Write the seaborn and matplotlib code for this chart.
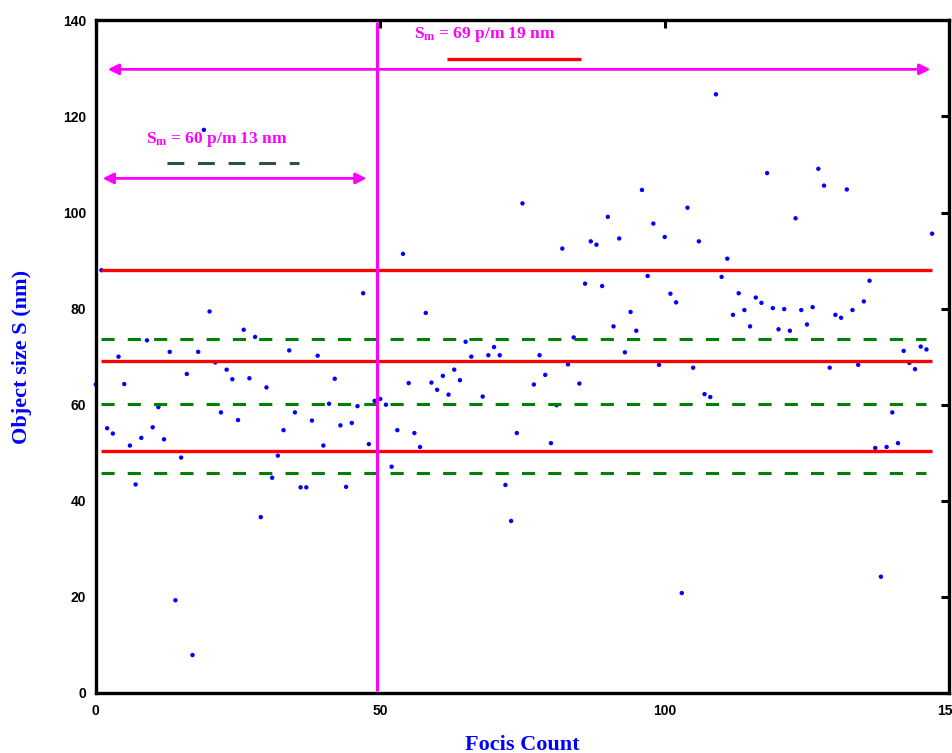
import matplotlib
matplotlib.use('Agg')
import matplotlib.pyplot as plt
import seaborn as sns
import pandas as pd
from matplotlib import font_manager

focis = [0, 1, 2, 3, 4, 5, 6, 7, 8, 9, 10, 11, 12, 13, 14, 15, 16, 17, 18, 19,
         20, 21, 22, 23, 24, 25, 26, 27, 28, 29, 30, 31, 32, 33, 34, 35, 36, 37, 38, 39,
         40, 41, 42, 43, 44, 45, 46, 47, 48, 49, 50, 51, 52, 53, 54, 55, 56, 57, 58, 59,
         60, 61, 62, 63, 64, 65, 66, 68, 69, 70, 71, 72, 73, 74, 75, 77, 78, 79,
         80, 81, 82, 83, 84, 85, 86, 87, 88, 89, 90, 91, 92, 93, 94, 95, 96, 97, 98, 99,
         100, 101, 102, 103, 104, 105, 106, 107, 108, 109, 110, 111, 112, 113, 114, 115,
         116, 117, 118, 119, 120, 121, 122, 123, 124, 125, 126, 127, 128, 129, 130, 131,
         132, 133, 134, 135, 136, 137, 138, 139, 140, 141, 142, 143, 144, 145, 146, 147]
sizes = [64.2, 88.0, 55.1, 54.0, 70.0, 64.3, 51.5, 43.4, 53.1, 73.4, 55.3, 59.5, 52.8, 71.0,
         19.3, 49.0, 66.4, 7.9, 71.0, 117.2, 79.4, 68.8, 58.4, 67.3, 65.3, 56.8, 75.6, 65.5,
         74.1, 36.6, 63.6, 44.8, 49.4, 54.7, 71.3, 58.4, 42.8, 42.8, 56.7, 70.2, 51.5, 60.2,
         65.4, 55.7, 42.9, 56.2, 59.7, 83.2, 51.8, 60.8, 61.2, 60.0, 47.1, 54.7, 91.4, 64.5,
         54.1, 51.2, 79.1, 64.6, 63.1, 66.0, 62.1, 67.3, 65.1, 73.1, 70.0, 61.7, 70.3, 72.0,
         70.3, 43.3, 35.8, 54.1, 101.9, 64.2, 70.3, 66.2, 52.0, 59.9, 92.5, 68.4, 74.0, 64.4,
         85.2, 94.0, 93.3, 84.7, 99.1, 76.3, 94.6, 70.9, 79.3, 75.4, 104.7, 86.8, 97.7, 68.3,
         94.9, 83.1, 81.3, 20.8, 101.0, 67.7, 94.0, 62.2, 61.6, 124.6, 86.6, 90.4, 78.7, 83.2,
         79.7, 76.3, 82.3, 81.2, 108.2, 80.1, 75.7, 79.9, 75.4, 98.8, 79.7, 76.7, 80.3, 109.1,
         105.6, 67.7, 78.7, 78.1, 104.8, 79.7, 68.3, 81.5, 85.8, 51.0, 24.2, 51.2, 58.4, 52.0,
         71.2, 68.7, 67.4, 72.1, 71.5, 95.6]

# reference levels
red_levels = [50.4, 69.2, 88.1]        # 69 +/- 19 nm
green_levels = [45.7, 60.2, 73.7]      # 60 +/- 13 nm
split_at = 49.5
label_60 = r'S$_\mathbf{m}$ = 60 p/m 13 nm'
label_69 = r'S$_\mathbf{m}$ = 69 p/m 19 nm'

df = pd.DataFrame({'Focis Count': focis, 'Object size': sizes})

sns.set_style('white')
names = {f.name for f in font_manager.fontManager.ttflist}
tick_font = 'Liberation Sans Narrow' if 'Liberation Sans Narrow' in names else 'Liberation Sans'
plt.rcParams['font.family'] = ['Liberation Serif', 'DejaVu Serif']
plt.rcParams['mathtext.fontset'] = 'custom'
plt.rcParams['mathtext.rm'] = 'Liberation Serif:bold'
plt.rcParams['mathtext.bf'] = 'Liberation Serif:bold'
plt.rcParams['mathtext.it'] = 'Liberation Serif:bold'

fig = plt.figure(figsize=(9.53, 7.53), dpi=100)
ax = fig.add_axes([0.1005, 0.0797, 0.8955, 0.8933])

sns.scatterplot(data=df, x='Focis Count', y='Object size', ax=ax, color='#0000ff',
                s=10, edgecolor='none', zorder=2, clip_on=False, legend=False)

for lv in red_levels:
    ax.hlines(lv, 0.9, 146.9, color='#ff0000', lw=2.4, zorder=3)
for lv in green_levels:
    ax.hlines(lv, 0.9, 146.0, color='#008000', lw=2.2, linestyles=(0, (4.3, 4.3)), zorder=3)

ax.vlines(split_at, 0.5, 139.6, color='#ff00ff', lw=2.2, zorder=4)

arrow = dict(arrowstyle='<|-|>', color='#ff00ff', lw=2.0, mutation_scale=16, shrinkA=0, shrinkB=0)
ax.annotate('', xy=(146.7, 129.8), xytext=(2.1, 129.8), arrowprops=arrow, zorder=4)
ax.annotate('', xy=(47.6, 107.1), xytext=(1.2, 107.1), arrowprops=arrow, zorder=4)

ax.hlines(131.9, 61.8, 85.3, color='#ff0000', lw=2.4, zorder=3)
ax.hlines(110.4, 12.6, 35.7, color='#2f4f4f', lw=2.2, linestyles=(0, (5.5, 4.5)), zorder=3)

ax.text(8.9, 115.3, label_60, color='#ff00ff', fontsize=12.5, fontweight='bold',
        ha='left', va='center')
ax.text(56.0, 137.1, label_69, color='#ff00ff', fontsize=12.5, fontweight='bold',
        ha='left', va='center')

ax.set_xlim(0, 150)
ax.set_ylim(0, 140)
ax.set_xticks([0, 50, 100, 150])
ax.set_yticks([0, 20, 40, 60, 80, 100, 120, 140])
ax.tick_params(direction='in', length=6, width=2.2, top=True, right=True,
               labelsize=10, colors='black')
ax.tick_params(axis='x', pad=8)
ax.tick_params(axis='y', pad=7)
for lab in ax.get_xticklabels() + ax.get_yticklabels():
    lab.set_fontfamily(tick_font)
    lab.set_fontweight('bold')
for sp in ax.spines.values():
    sp.set_visible(True)
    sp.set_linewidth(2.4)
    sp.set_color('black')

ax.set_xlabel('Focis Count', color='#0000ff', fontsize=16, fontweight='bold', labelpad=12)
ax.set_ylabel('Object size S (nm)', color='#0000ff', fontsize=16, fontweight='bold', labelpad=22)

fig.savefig('out.png', dpi=100)
